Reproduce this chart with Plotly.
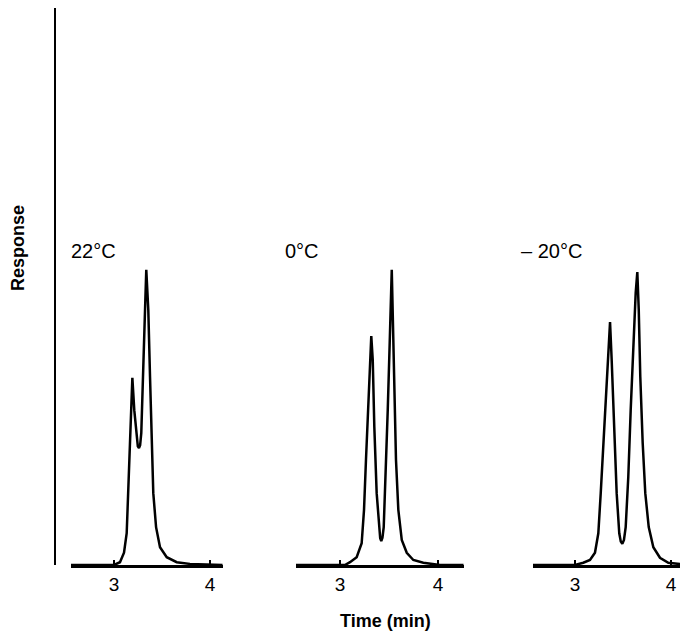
import plotly.graph_objects as go

# retention time (min) and detector response (arbitrary units, axis top = 100)
time_22 = [2.55, 3.00, 3.062, 3.104, 3.132, 3.149, 3.167, 3.184, 3.191, 3.211, 3.236, 3.248,
           3.260, 3.272, 3.284, 3.305, 3.323, 3.336, 3.357, 3.375, 3.393, 3.409, 3.438,
           3.479, 3.549, 3.653, 3.79, 4.13]
resp_22 = [0.0, 0.0, 0.5, 2.2, 5.7, 12.9, 21.9, 30.9, 33.6, 27.8, 22.4, 21.3,
           21.0, 21.5, 23.7, 33.8, 45.8, 53.0, 45.8, 33.8, 21.9, 12.9, 6.8,
           3.2, 1.4, 0.5, 0.2, 0.0]

time_0 = [2.55, 3.05, 3.102, 3.170, 3.221, 3.245, 3.265, 3.286, 3.306, 3.319, 3.334, 3.350,
          3.374, 3.398, 3.410, 3.421, 3.433, 3.446, 3.466, 3.487, 3.507, 3.528, 3.541,
          3.554, 3.571, 3.595, 3.630, 3.681, 3.748, 3.850, 4.02, 4.26]
resp_0 = [0.0, 0.0, 0.5, 1.4, 3.9, 9.9, 18.9, 27.8, 36.8, 41.1, 36.8, 24.8,
          12.9, 6.3, 4.8, 4.3, 4.9, 6.8, 15.8, 27.8, 39.9, 53.0, 42.7,
          30.9, 18.9, 9.9, 4.5, 2.2, 0.9, 0.4, 0.0, 0.0]

time_m20 = [2.56, 3.0, 3.086, 3.156, 3.208, 3.243, 3.268, 3.295, 3.323, 3.347, 3.365, 3.382,
            3.406, 3.434, 3.461, 3.477, 3.493, 3.510, 3.528, 3.555, 3.580, 3.607, 3.632,
            3.649, 3.664, 3.680, 3.705, 3.732, 3.768, 3.816, 3.885, 3.972, 4.18]
resp_m20 = [0.0, 0.0, 0.4, 0.9, 2.2, 5.7, 12.9, 21.9, 30.9, 39.9, 43.6, 36.8,
            24.8, 12.9, 5.7, 4.2, 3.8, 4.5, 6.8, 15.8, 27.8, 39.9, 48.8,
            52.6, 45.8, 33.8, 21.9, 12.9, 6.8, 3.2, 1.3, 0.4, 0.0]

labels = ["22\u00b0C", "0\u00b0C", "\u2013 20\u00b0C"]
tick_vals = [3, 4]
tick_text = ["3", "4"]

# the page body adds an 8px margin, so the figure is 8px smaller and
# positions below are page pixels shifted back by that margin
OFF = 8
W, H = 688 - OFF, 634 - OFF
FONT = "Liberation Sans, Arial, sans-serif"

def px_x(p):
    return (p - OFF) / W

def px_y(p):
    return 1 - (p - OFF) / H

panels = [
    (time_22, resp_22, "x", [2.552, 4.135], (71, 223), 69),
    (time_0, resp_0, "x2", [2.551, 4.265], (296, 464), 283),
    (time_m20, resp_m20, "x3", [2.5625, 4.177], (533, 688), 519),
]

fig = go.Figure()

for i, (t, r, xa, rng, dom, lab_x) in enumerate(panels):
    fig.add_trace(go.Scatter(x=t, y=r, xaxis=xa, yaxis="y", mode="lines",
                             line=dict(color="black", width=2.5), showlegend=False,
                             hoverinfo="skip"))
    key = "xaxis" if i == 0 else f"xaxis{i+1}"
    fig.layout[key] = dict(
        domain=[px_x(dom[0]), px_x(dom[1])], range=rng, anchor="y",
        showline=True, linecolor="black", linewidth=2.5,
        ticks="inside", ticklen=5, tickwidth=1.5, tickcolor="black",
        tickvals=tick_vals, ticktext=tick_text, showgrid=False, zeroline=False,
        tickfont=dict(family=FONT, size=19, color="black"),
        fixedrange=True,
    )
    fig.add_annotation(text=labels[i], x=px_x(lab_x), y=px_y(251), xref="paper", yref="paper",
                       xanchor="left", yanchor="middle", showarrow=False,
                       font=dict(family=FONT, size=20, color="black"))

fig.update_layout(
    width=W, height=H,
    margin=dict(l=0, r=0, t=0, b=0),
    paper_bgcolor="white", plot_bgcolor="white",
    yaxis=dict(domain=[px_y(565), px_y(8)], range=[0, 100], anchor="free",
               position=px_x(55), showline=True, linecolor="black", linewidth=2,
               showticklabels=False, ticks="", showgrid=False, zeroline=False,
               fixedrange=True),
)

fig.add_annotation(text="<b>Time (min)</b>", x=px_x(385), y=px_y(621), xref="paper", yref="paper",
                   showarrow=False, xanchor="center", yanchor="middle",
                   font=dict(family=FONT, size=18, color="black"))
fig.add_annotation(text="<b>Response</b>", x=px_x(18), y=px_y(248), xref="paper", yref="paper",
                   showarrow=False, textangle=-90, xanchor="center", yanchor="middle",
                   font=dict(family=FONT, size=18, color="black"))

fig.write_html("out.html")
